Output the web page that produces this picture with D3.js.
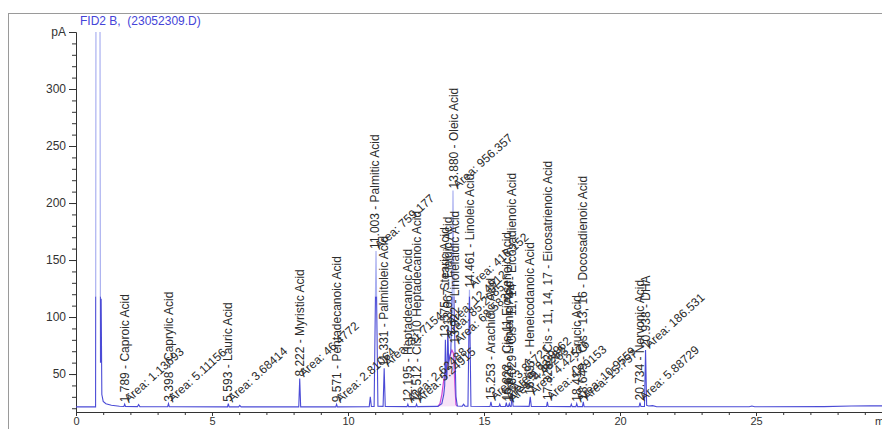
<!DOCTYPE html>
<html>
<head>
<meta charset="utf-8">
<script src="https://d3js.org/d3.v7.min.js"></script>
<style>
  body { margin: 0; background: #fff; }
  text { font-family: "Liberation Sans", Arial, sans-serif; }
</style>
</head>
<body>
<svg id="chart" width="882" height="429"></svg>
<script>

// chromatogram trace, [time (min), signal (pA)]
var trace = [
  [0, 21.2], [0.72, 21.2], [0.735, 400], [0.88, 400], [0.9, 60], [0.925, 116], [0.95, 32],
  [1.0, 26], [1.1, 24], [1.3, 22.6], [1.6, 21.8],
  [1.76, 21.5], [1.79, 23.5], [1.82, 21.5],
  [2.26, 21.4], [2.3, 23.2], [2.35, 21.4],
  [3.37, 21.3], [3.4, 24], [3.43, 21.3],
  [5.57, 21.2], [5.6, 24], [5.63, 21.2],
  [5.98, 21.2], [6.02, 22.5], [6.07, 21.2],
  [8.19, 21.2], [8.225, 46], [8.26, 21.2],
  [9.55, 21.2], [9.58, 23.5], [9.61, 21.2],
  [10.78, 21.3], [10.82, 30], [10.86, 21.5],
  [10.96, 21.5], [11.03, 158], [11.1, 21.8],
  [11.29, 21.6], [11.33, 55], [11.37, 21.5],
  [12.17, 21.4], [12.2, 23.5], [12.23, 21.4],
  [12.49, 21.4], [12.52, 23.5], [12.55, 21.4],
  [13.3, 21.6], [13.45, 24], [13.52, 32], [13.555, 40], [13.58, 80], [13.61, 45], [13.64, 50],
  [13.67, 91], [13.7, 60], [13.78, 70], [13.83, 120], [13.86, 211], [13.9, 110], [13.93, 75],
  [13.97, 30], [14.02, 22],
  [14.2, 21.8], [14.25, 23.5], [14.3, 21.8],
  [14.41, 21.8], [14.465, 124], [14.52, 21.8],
  [15.22, 21.5], [15.255, 25.5], [15.29, 21.5],
  [15.55, 21.5], [15.58, 23.5], [15.61, 21.5],
  [15.79, 21.6], [15.82, 25], [15.85, 21.6],
  [15.9, 21.6], [15.93, 24], [15.96, 21.6],
  [16.0, 21.6], [16.03, 33], [16.07, 21.8],
  [16.66, 21.6], [16.7, 30], [16.74, 21.6],
  [17.3, 21.5], [17.33, 25.5], [17.36, 21.5],
  [18.18, 21.4], [18.21, 23.5], [18.24, 21.4],
  [18.38, 21.4], [18.41, 24], [18.44, 21.4],
  [18.62, 21.4], [18.65, 25.5], [18.68, 21.4],
  [20.7, 21.3], [20.735, 25], [20.77, 21.5],
  [20.9, 21.5], [20.94, 71], [20.98, 22.5], [21.05, 22], [21.2, 22.3], [21.35, 21.3],
  [24.75, 21.3], [24.85, 21.9], [24.95, 21.3],
  [27.5, 21.4], [28.5, 21.9], [29.2, 22.2], [30, 21.9]
];

// second (magenta) trace under the oleic cluster
var magenta = [
  [13.3, 21.5], [13.38, 24], [13.45, 32], [13.52, 45], [13.6, 55], [13.68, 60],
  [13.75, 66], [13.82, 71], [13.88, 68], [13.93, 40], [13.97, 23], [14.02, 21.8]
];

var peakTimes = [1.789, 3.398, 5.593, 8.222, 9.571, 11.003, 11.331, 12.195, 12.512, 13.575,
  13.667, 13.880, 13.922, 14.461, 15.253, 15.822, 15.929, 16.029, 16.697, 17.328, 18.412,
  18.649, 20.734, 20.938];
var peakNames = ["Caproic Acid", "Caprylic Acid", "Lauric Acid", "Myristic Acid",
  "Pentadecanoic Acid", "Palmitic Acid", "Palmitoleic Acid", "Heptadecanoic Acid",
  "Cis-10 Heptadecanoic Acid", "Stearic Acid", "Elaidic Acid", "Oleic Acid",
  "Linolelaidic Acid", "Linoleic Acid", "Arachidic Acid", "Cis-11 Eicosenoic Acid",
  "Linolenic Acid", "Cis - 11, 14 - Eicosadienoic Acid", "Heneicodanoic Acid",
  "Cis - 11, 14, 17 - Eicosatrienoic Acid", "Erucic Acid", "Cis - 13, 16 - Docosadienoic Acid",
  "Nervonic Acid", "DHA"];
var peakAreas = ["1.13693", "5.11156", "3.68414", "46.4772", "2.81064", "759.177", "31.7154",
  "2.62488", "5.24915", "85.2085", "12.4912", "956.357", "68.5833", "416.152", "3.85721",
  "2.72282", "4.48263", "8.09962", "4.42576", "4.79153", "10.9559", "15.757", "5.88729", "186.531"];
// signal level (pA) where each peak label starts
var labelAt = [23.5, 24, 24, 46, 23.5, 158, 55, 23.5, 23.5, 80, 91, 211, 75, 124, 25.5, 25,
  24, 33, 30, 25.5, 24, 25.5, 25, 71];

var xMajor = [0, 5, 10, 15, 20, 25];
var xMinor = d3.range(1, 30);
var yMajor = [50, 100, 150, 200, 250, 300];
var yMinor = d3.range(20, 350, 10);

var title = "FID2 B,  (23052309.D)";

var svg = d3.select("#chart");
var x = d3.scaleLinear().domain([0, 30]).range([76, 892]);
var y = d3.scaleLinear().domain([16.7, 350]).range([412, 32]);

// outer frame
svg.append("rect")
  .attr("x", 8.5).attr("y", 13.5).attr("width", 880).attr("height", 440)
  .attr("fill", "none").attr("stroke", "#9a9a9a");

svg.append("text")
  .attr("x", 80).attr("y", 25)
  .attr("font-size", 12).attr("fill", "#4444d8")
  .style("white-space", "pre")
  .text(title);

// axes
var ax = svg.append("g").attr("transform", "translate(0," + y.range()[0] + ")");
ax.call(d3.axisBottom(x).tickValues(xMinor).tickSize(3).tickFormat("").tickSizeOuter(0));
ax.append("g").call(d3.axisBottom(x).tickValues(xMajor).tickSize(4).tickPadding(1).tickSizeOuter(0));

var ay = svg.append("g").attr("transform", "translate(" + x.range()[0] + ",0)");
ay.call(d3.axisLeft(y).tickValues(yMinor).tickSize(4).tickFormat("").tickSizeOuter(0));
ay.append("g").call(d3.axisLeft(y).tickValues(yMajor.concat([350])).tickSize(7).tickPadding(3)
  .tickFormat(function(d){ return d == 350 ? "pA" : d; }).tickSizeOuter(0));

svg.selectAll(".domain").attr("stroke", "#333");
svg.selectAll(".tick line").attr("stroke", "#333");
svg.selectAll(".tick text").attr("font-size", 12).attr("fill", "#333")
  .style("font-family", "'Liberation Sans', Arial, sans-serif");
ax.selectAll(".tick text").attr("font-size", 11);

svg.append("text")
  .attr("x", 875).attr("y", y.range()[0] + 5).attr("dy", "0.71em")
  .attr("font-size", 11).attr("fill", "#333")
  .text("min");

// clip regions: normal part and off-scale solvent part (drawn lighter)
var cut = y(118);
var defs = svg.append("defs");
defs.append("clipPath").attr("id", "low").append("rect")
  .attr("x", x.range()[0]).attr("y", cut).attr("width", 820).attr("height", y.range()[0] - cut);
defs.append("clipPath").attr("id", "high").append("rect")
  .attr("x", x.range()[0]).attr("y", y.range()[1]).attr("width", 820).attr("height", cut - y.range()[1]);

var line = d3.line().x(function(d){ return x(d[0]); }).y(function(d){ return y(d[1]); });

svg.append("path").datum(magenta)
  .attr("d", line).attr("fill", "#efc8f0").attr("fill-opacity", 0.5)
  .attr("stroke", "#d14ad4").attr("stroke-width", 1.2);

svg.append("path").datum(trace)
  .attr("clip-path", "url(#high)")
  .attr("d", line).attr("fill", "none")
  .attr("stroke", "#aab0f0").attr("stroke-width", 1.2);

svg.append("path").datum(trace)
  .attr("clip-path", "url(#low)")
  .attr("d", line).attr("fill", "none")
  .attr("stroke", "#4b4bd6").attr("stroke-width", 1.1);

// peak labels
var labels = svg.append("g").attr("font-size", 12).attr("fill", "#2c2c2c");
peakTimes.forEach(function(t, i){
  var px = x(t), py = y(labelAt[i]);
  labels.append("text")
    .attr("transform", "translate(" + px + "," + (py - 2) + ") rotate(-90)")
    .attr("dy", "0.35em")
    .text(t.toFixed(3) + " - " + peakNames[i]);
  labels.append("text")
    .attr("transform", "translate(" + (px + 4) + "," + (py - 1) + ") rotate(-42)")
    .text("Area: " + peakAreas[i]);
});

</script>
</body>
</html>
